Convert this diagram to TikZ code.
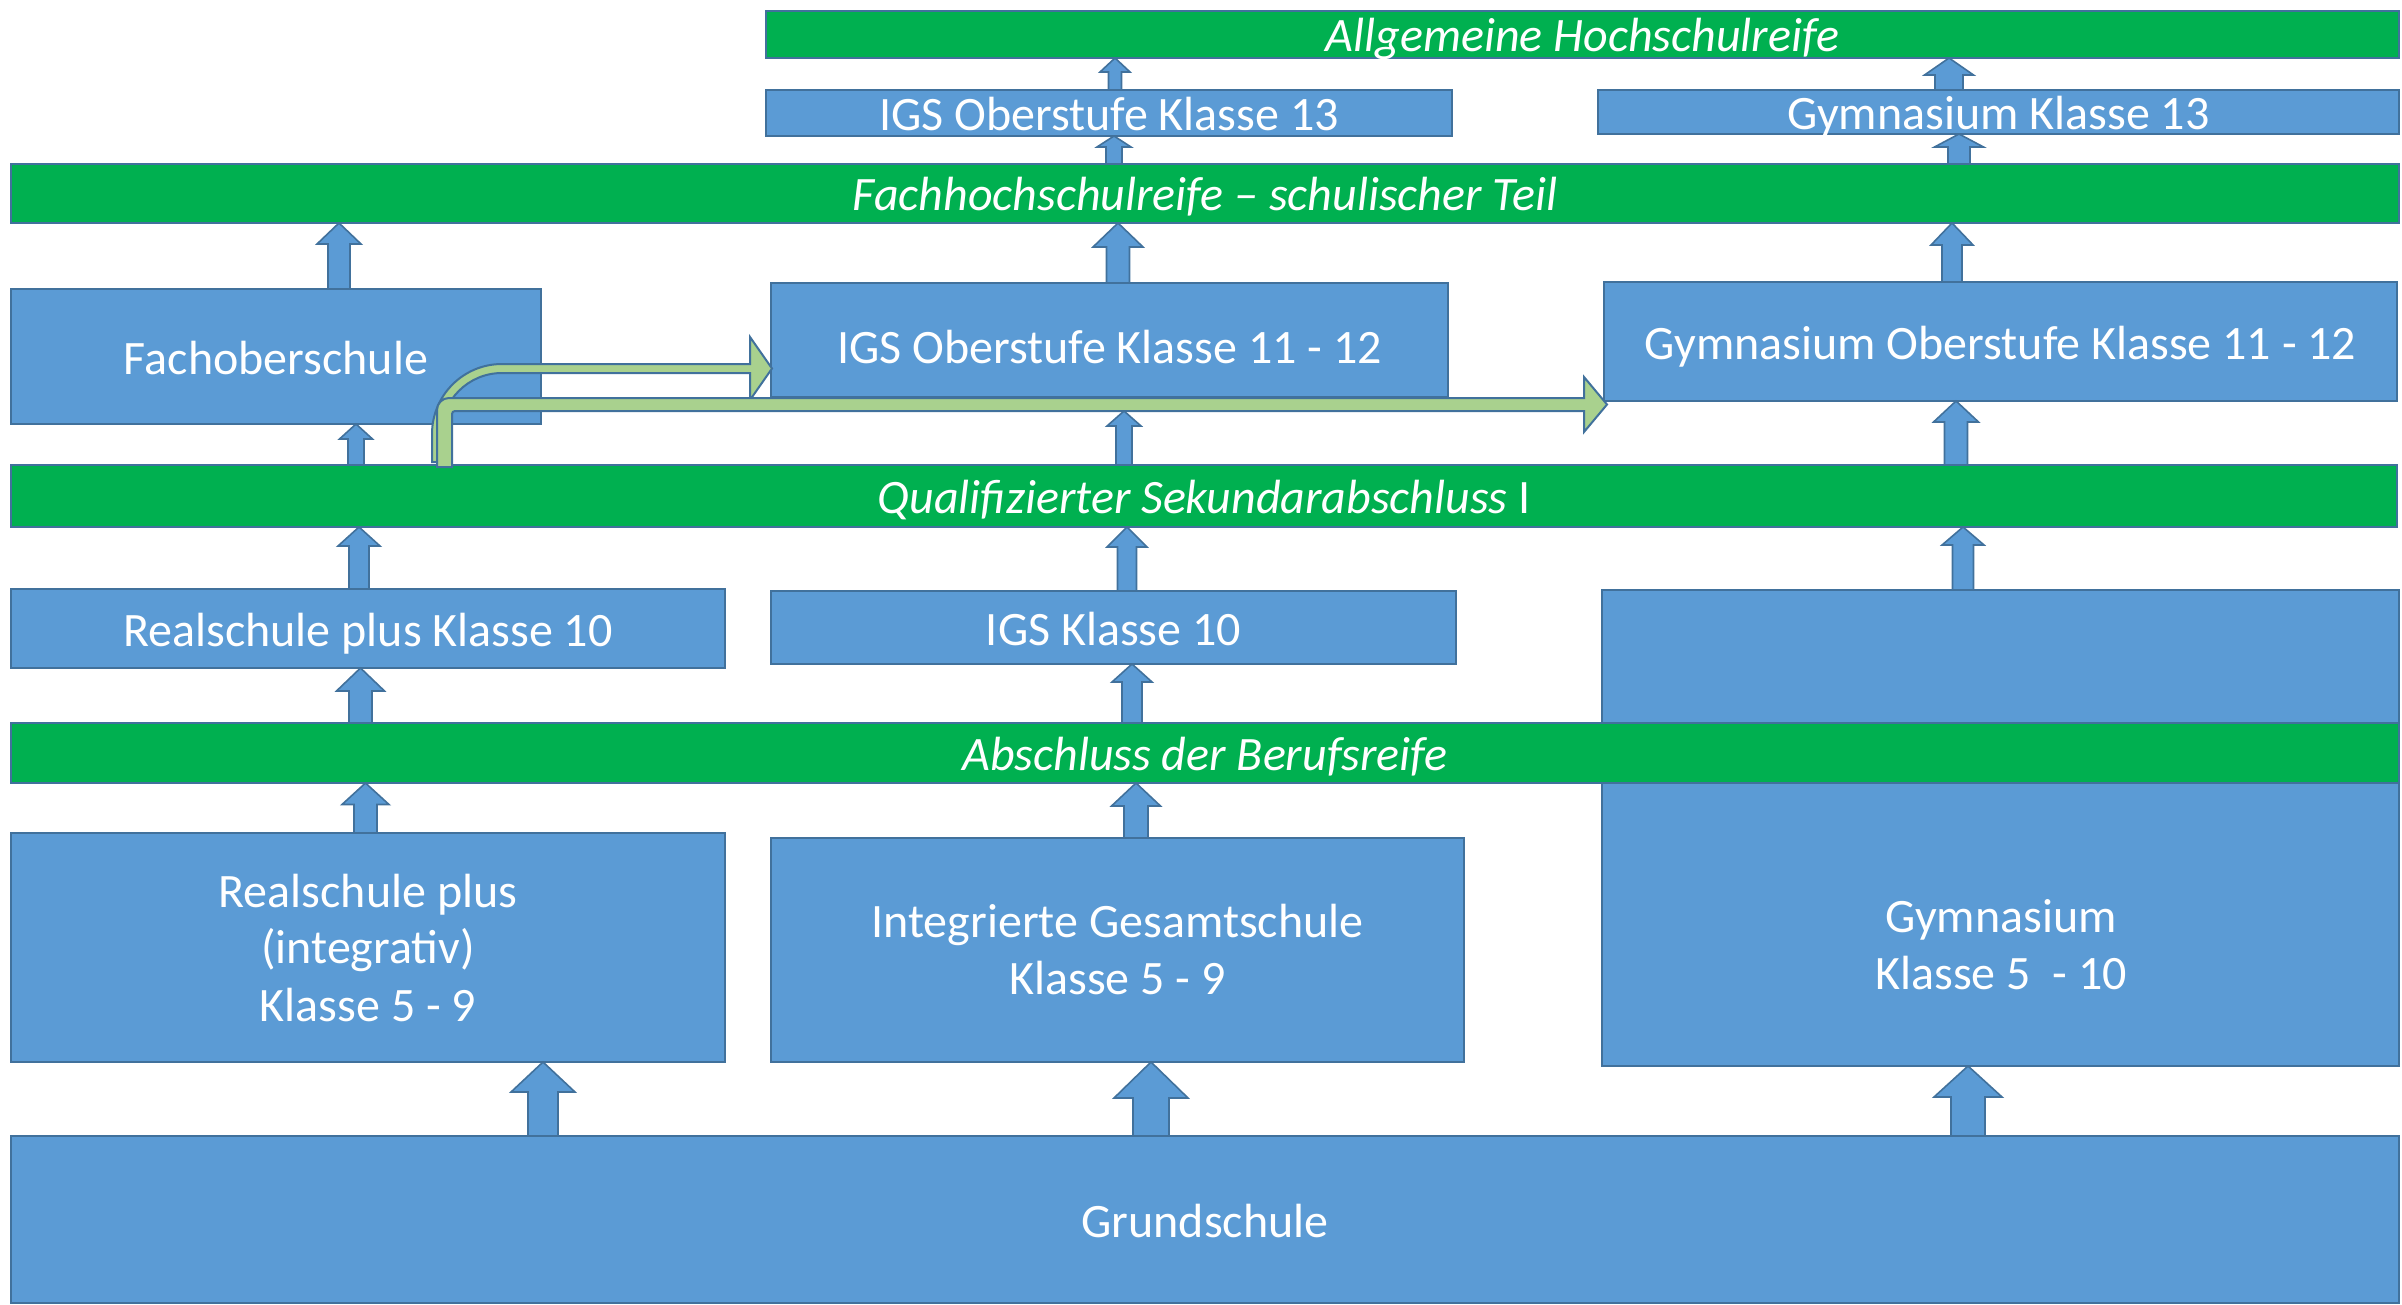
\documentclass[tikz,border=0pt]{standalone}
\usepackage{fontspec}
\setmainfont{Carlito}
\usepackage{tikz}
\usetikzlibrary{calc}

\definecolor{boxblue}{HTML}{5B9BD5}
\definecolor{boxline}{HTML}{41719C}
\definecolor{bargreen}{HTML}{00B050}
\definecolor{arrowgreen}{HTML}{A9D18E}

\tikzset{
	box/.style={draw=boxline, fill=boxblue, line width=1pt, text=white, inner sep=0pt, outer sep=0pt, align=center, font=\fontsize{24}{28.5}\selectfont},
	oneline/.style={text height=19.5pt, text depth=2pt},
	bar/.style={box, oneline, fill=bargreen, font=\fontsize{24}{28.5}\selectfont\itshape},
	blockarrow/.style={draw=boxline, fill=boxblue, line width=0.8pt, line join=miter},
	bentarrow/.style={draw=boxline, fill=arrowgreen, line width=1pt, line join=miter}
}

\newcommand{\uparr}[6]{%
	\coordinate (ax) at (#1,0);
	\path (#2 -| ax) coordinate (abase) (#3 -| ax) coordinate (atip);
	\draw[blockarrow] ($(abase)+(-#4,0)$) -- ($(atip)+(-#4,#6)$) -- ($(atip)+(-#5,#6)$) -- (atip) -- ($(atip)+(#5,#6)$) -- ($(atip)+(#4,#6)$) -- ($(abase)+(#4,0)$) -- cycle;
}

\begin{document}
\begin{tikzpicture}[x=0.5pt, y=-0.5pt]

	\useasboundingbox (0,0) rectangle (2402,1305);

	\node[bar, minimum width=816.5pt, minimum height=23.5pt] (allg) at (1582.5,34.5) {Allgemeine Hochschulreife};
	\node[box, oneline, minimum width=343pt, minimum height=23pt] (igs13) at (1109,113) {IGS Oberstufe Klasse 13};
	\node[box, oneline, minimum width=400.5pt, minimum height=22pt] (gym13) at (1998.5,112) {Gymnasium Klasse 13};
	\node[bar, minimum width=1194pt, minimum height=29.5pt] (fhr) at (1205,193.5) {Fachhochschulreife – schulischer Teil};

	\node[box, oneline, minimum width=265pt, minimum height=67.5pt] (fos) at (276,356.5) {Fachoberschule};
	\node[box, oneline, text height=25pt, minimum width=338.5pt, minimum height=57pt] (igsob) at (1109.5,340) {IGS Oberstufe Klasse 11 - 12};
	\node[box, oneline, minimum width=396.5pt, minimum height=59.5pt] (gymob) at (2000.5,341.5) {Gymnasium Oberstufe Klasse 11 - 12};
	\node[bar, minimum width=1193pt, minimum height=31pt] (qual) at (1204,496) {Qualifizierter Sekundarabschluss \upshape I};

	\node[box, oneline, minimum width=357pt, minimum height=39.5pt] (rs10) at (368,628.5) {Realschule plus Klasse 10};
	\node[box, oneline, minimum width=342.5pt, minimum height=36.5pt] (igs10) at (1113.5,627.5) {IGS Klasse 10};
	\node[box, minimum width=398.5pt, minimum height=238pt] (gym) at (2000.5,828) {};
	\node[bar, minimum width=1194pt, minimum height=30pt] (abr) at (1205,753) {Abschluss der Berufsreife};

	\node[box, minimum width=357pt, minimum height=114.5pt] (rsi) at (368,947.5) {Realschule plus\\(integrativ)\\Klasse 5 - 9};
	\node[box, minimum width=346.5pt, minimum height=112pt] (igs) at (1117.5,950) {Integrierte Gesamtschule\\Klasse 5 - 9};
	\node[box, draw=none, fill=none] (gymtxt) at (2001,945) {Gymnasium\\Klasse 5\ \ - 10};
	\node[box, oneline, minimum width=1194pt, minimum height=83.5pt] (gs) at (1205,1219.5) {Grundschule};

	\coordinate (lowshaft) at (0,411);

	\uparr{543}{gs.north}{rsi.south}{15}{32}{30}
	\uparr{365.5}{rsi.north}{abr.south}{11.5}{23.5}{21.5}
	\uparr{360.5}{abr.north}{rs10.south}{11.5}{24}{23}
	\uparr{359}{rs10.north}{qual.south}{10}{21}{19}
	\uparr{356}{qual.north}{fos.south}{8}{16.5}{15}
	\uparr{339}{fos.north}{fhr.south}{11}{22}{21}

	\uparr{1151}{gs.north}{igs.south}{18}{37}{36}
	\uparr{1136}{igs.north}{abr.south}{12}{24.5}{23}
	\uparr{1132}{abr.north}{igs10.south}{10}{20}{18}
	\uparr{1127}{igs10.north}{qual.south}{9.5}{20}{20}
	\uparr{1124}{qual.north}{lowshaft}{8}{17}{15}
	\uparr{1118}{igsob.north}{fhr.south}{11.5}{25}{24}
	\uparr{1114}{fhr.north}{igs13.south}{8}{17}{11}
	\uparr{1115}{igs13.north}{allg.south}{6.5}{15}{14}

	\uparr{1968}{gs.north}{gym.south}{17}{34}{31}
	\uparr{1963}{gym.north}{qual.south}{10.5}{21}{18}
	\uparr{1956}{qual.north}{gymob.south}{11.5}{22.5}{21}
	\uparr{1952}{gymob.north}{fhr.south}{10}{21}{22}
	\uparr{1959}{fhr.north}{gym13.south}{11}{24.5}{13}
	\uparr{1949}{gym13.north}{allg.south}{14}{24.5}{17}

	\draw[bentarrow] (432,462) -- (432,434) .. controls (432,395.3) and (463.3,364) .. (502,364) -- (750,364) -- (750,337) -- (772,368.5) -- (750,400) -- (750,373) -- (502,373) .. controls (468.3,373) and (441,400.3) .. (441,434) -- (441,462) -- cycle;
	\draw[bentarrow] (437,467) -- (437,410) .. controls (437,403.4) and (442.4,398) .. (449,398) -- (1584,398) -- (1584,377) -- (1607,404.5) -- (1584,432) -- (1584,411) -- (455,411) .. controls (453.3,411) and (452,412.3) .. (452,414) -- (452,467) -- cycle;

\end{tikzpicture}
\end{document}
